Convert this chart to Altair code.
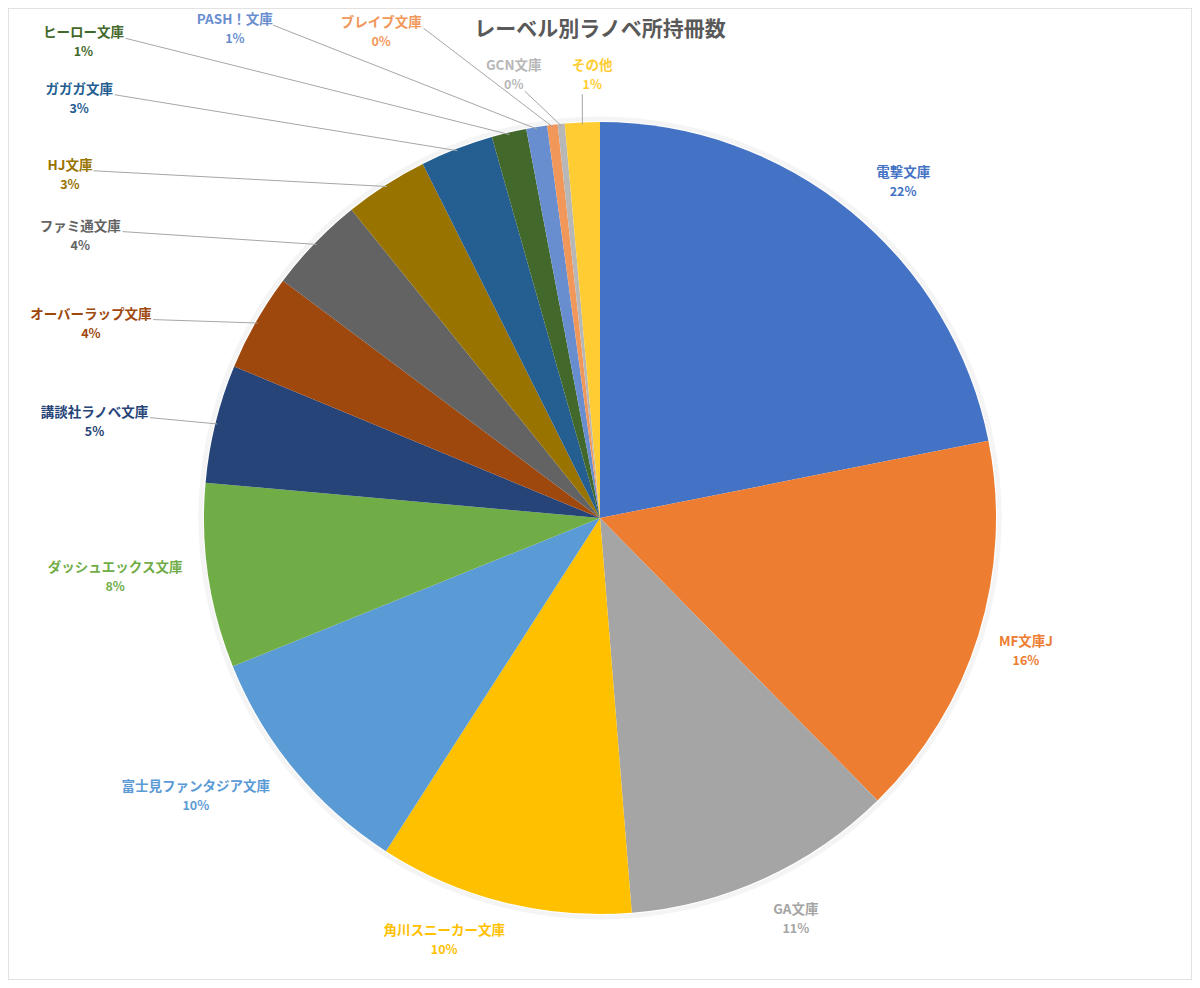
import math
import altair as alt
import pandas as pd

# ---- data ----
labels = ["電撃文庫", "MF文庫J", "GA文庫", "角川スニーカー文庫", "富士見ファンタジア文庫",
          "ダッシュエックス文庫", "講談社ラノベ文庫", "オーバーラップ文庫", "ファミ通文庫",
          "HJ文庫", "ガガガ文庫", "ヒーロー文庫", "PASH！文庫", "ブレイブ文庫", "GCN文庫", "その他"]
counts = [154, 111, 78, 73, 69, 53, 34, 28, 28, 24, 21, 10, 6, 3, 2, 10]
colors = ["#4472C4", "#ED7D31", "#A5A5A5", "#FFC000", "#5B9BD5", "#70AD47", "#264478",
          "#9E480E", "#636363", "#997300", "#255E91", "#43682B", "#698ED0", "#F1975A",
          "#B7B7B7", "#FFCD33"]
title_text = "レーベル別ラノベ所持冊数"

# ---- label layout (angle clockwise from 12 o'clock, distance in pie radii) ----
label_angle = [42.0, 107.2, 153.9, 200.3, 235.6, 263.2, 280.9, 291.0, 298.6,
               303.0, 308.9, 312.7, 323.3, 335.8, 349.0, 359.0]
label_dist = [1.144, 1.126, 1.124, 1.134, 1.237, 1.233, 1.30, 1.377, 1.495,
              1.596, 1.690, 1.775, 1.543, 1.348, 1.142, 1.121]
leader_kind = ["", "", "", "", "", "", "name", "name", "name", "name", "name",
               "name", "name", "name", "pct", "below"]

# ---- geometry ----
W, H = 1184, 972
R = 396.0
CX, CY = 592.0, 510.0
xdom = [-CX / R, (W - CX) / R]
ydom = [-(H - CY) / R, CY / R]
FS = 13.5


def text_w(s):
    return sum(8.0 if ord(c) < 0x2000 else 13.4 for c in s)


total = sum(counts)
pie = pd.DataFrame({"label": labels, "count": counts, "idx": range(len(labels))})

rows, lead = [], []
cum = 0
for i, (lab, c) in enumerate(zip(labels, counts)):
    mid = (cum + c / 2) / total * 2 * math.pi
    cum += c
    a = math.radians(label_angle[i])
    lx = label_dist[i] * math.sin(a)
    ly = label_dist[i] * math.cos(a)
    pct = f"{int(100 * c / total + 0.5)}%"
    name_y = ly + 8 / R
    pct_y = ly - 11 / R
    rows.append({"label": lab, "pct": pct, "x": lx, "name_y": name_y, "pct_y": pct_y})
    kind = leader_kind[i]
    if kind:
        sx, sy = math.sin(mid), math.cos(mid)
        if kind == "name":
            ex = lx + (text_w(lab) / 2 + 2) / R
            ey = name_y - 5 / R
        elif kind == "pct":
            ex = lx + (text_w(pct) / 2 + 3) / R
            ey = pct_y - 6 / R
        else:
            ex = lx - 10 / R
            ey = pct_y - 9 / R
        lead.append({"x": ex, "y": ey, "x2": sx * 0.995, "y2": sy * 0.995})

lab_df = pd.DataFrame(rows)
lead_df = pd.DataFrame(lead)

xs = alt.Scale(domain=xdom, nice=False, zero=False)
ys = alt.Scale(domain=ydom, nice=False, zero=False)
cscale = alt.Scale(domain=labels, range=colors)
noax = None

center_x = alt.X(datum=0, type="quantitative", scale=xs, axis=noax)
center_y = alt.Y(datum=0, type="quantitative", scale=ys, axis=noax)

shadow = alt.Chart(pd.DataFrame({"k": [0, 1, 2]})).mark_arc(
    theta=0, theta2=2 * math.pi, color="#000000"
).encode(
    x=center_x, y=center_y,
    radius=alt.Radius("k:Q", scale=alt.Scale(domain=[0, 2], range=[R + 1, R + 4], zero=False)),
    opacity=alt.value(0.045),
    order=alt.Order("k:Q", sort="descending"),
)

arcs = alt.Chart(pie).mark_arc(outerRadius=R).encode(
    x=center_x, y=center_y,
    theta=alt.Theta("count:Q", stack=True),
    order=alt.Order("idx:Q"),
    color=alt.Color("label:N", scale=cscale, legend=None),
)

leaders = alt.Chart(lead_df).mark_rule(color="#A6A6A6", strokeWidth=1).encode(
    x=alt.X("x:Q", scale=xs, axis=noax),
    y=alt.Y("y:Q", scale=ys, axis=noax),
    x2="x2:Q", y2="y2:Q",
)

names = alt.Chart(lab_df).mark_text(
    font="Noto Sans CJK JP", fontSize=FS, fontWeight="bold", baseline="middle", align="center"
).encode(
    x=alt.X("x:Q", scale=xs, axis=noax),
    y=alt.Y("name_y:Q", scale=ys, axis=noax),
    text="label:N",
    color=alt.Color("label:N", scale=cscale, legend=None),
)

pcts = alt.Chart(lab_df).mark_text(
    font="Noto Sans CJK JP", fontSize=12.5, fontWeight="bold", baseline="middle", align="center"
).encode(
    x=alt.X("x:Q", scale=xs, axis=noax),
    y=alt.Y("pct_y:Q", scale=ys, axis=noax),
    text="pct:N",
    color=alt.Color("label:N", scale=cscale, legend=None),
)

title = alt.Chart(pd.DataFrame({"t": [title_text]})).mark_text(
    font="Noto Sans CJK JP", fontSize=21, fontWeight="bold", color="#595959",
    baseline="middle", align="center"
).encode(
    x=alt.X(datum=0, type="quantitative", scale=xs, axis=noax),
    y=alt.Y(datum=(518 - 30) / R, type="quantitative", scale=ys, axis=noax),
    text="t:N",
)

chart = alt.layer(shadow, arcs, leaders, names, pcts, title).properties(
    width=W, height=H, padding=0, autosize=alt.AutoSizeParams(type="none"),
    background="#FFFFFF",
).configure_view(stroke="#D9D9D9", strokeWidth=1.5)

chart.save("out.html", embed_options={"renderer": "svg", "actions": False})
